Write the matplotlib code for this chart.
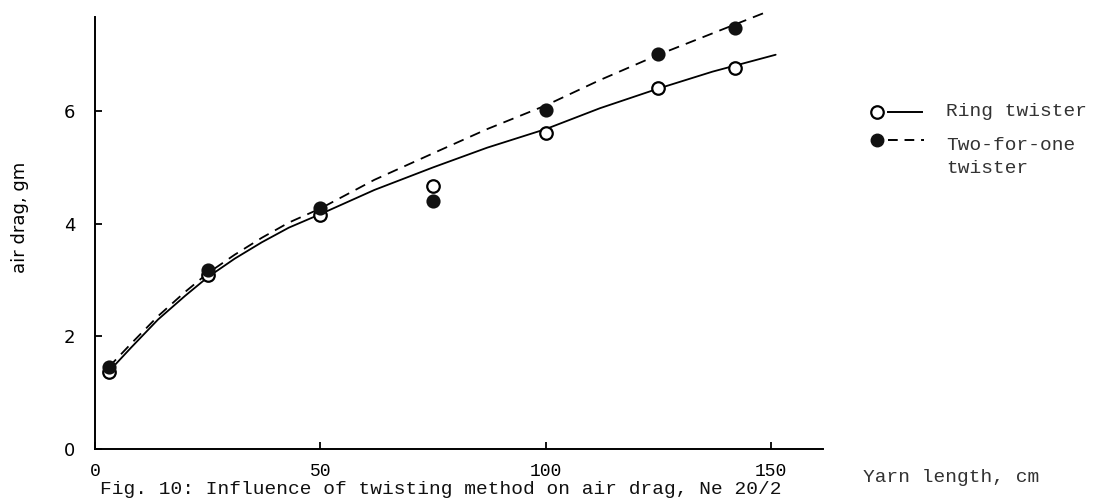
import matplotlib
matplotlib.use("Agg")
import matplotlib.pyplot as plt
from matplotlib.lines import Line2D

# Measured points: yarn length (cm) vs air drag
length_pts = [3, 25, 50, 75, 100, 125, 142]
ring_pts = [1.37, 3.09, 4.16, 4.67, 5.61, 6.41, 6.77]
tfo_pts = [1.45, 3.18, 4.28, 4.40, 6.02, 7.02, 7.48]

# Fitted trend curves
ring_fit_x = [3, 8, 14, 20, 25, 31, 37, 43, 50, 62, 75, 87, 100, 112, 125, 137, 151]
ring_fit_y = [1.37, 1.80, 2.30, 2.72, 3.05, 3.38, 3.67, 3.93, 4.17, 4.60, 5.00, 5.35,
              5.68, 6.05, 6.40, 6.70, 7.00]
tfo_fit_x = [3, 8, 14, 20, 25, 31, 37, 43, 50, 62, 75, 87, 100, 112, 125, 137, 149]
tfo_fit_y = [1.45, 1.87, 2.36, 2.79, 3.12, 3.45, 3.75, 4.02, 4.27, 4.78, 5.25, 5.68,
             6.10, 6.55, 7.00, 7.38, 7.76]

x_ticks = [0, 50, 100, 150]
y_ticks = [0, 2, 4, 6]

mono = "Liberation Mono"
W, H = 1096, 500
fig = plt.figure(figsize=(W / 100, H / 100), dpi=100)
ax = fig.add_axes([95 / W, 51 / H, 728 / W, 432 / H])
ax.set_xlim(0.5, 161.5)
ax.set_ylim(0, 7.67)

ax.plot(ring_fit_x, ring_fit_y, color="black", lw=1.3, solid_capstyle="round",
        clip_on=False)
ax.plot(tfo_fit_x, tfo_fit_y, color="black", lw=1.3, ls=(0, (6, 4)), clip_on=False)
ax.plot(length_pts, ring_pts, "o", ms=9, mfc="white", mec="black", mew=1.6,
        ls="none", zorder=3, clip_on=False)
ax.plot(length_pts, tfo_pts, "o", ms=9, mfc="#111111", mec="#111111", mew=1.2,
        ls="none", zorder=3, clip_on=False)

for side in ("top", "right"):
    ax.spines[side].set_visible(False)
for side in ("left", "bottom"):
    ax.spines[side].set_linewidth(1.4)

ax.set_xticks(x_ticks)
ax.set_yticks(y_ticks)
ax.set_xticklabels([str(v) for v in x_ticks], fontfamily=mono, fontsize=13)
ax.set_yticklabels([str(v) for v in y_ticks], fontfamily="DejaVu Sans", fontsize=13)
ax.tick_params(axis="x", direction="in", length=5, width=1.3, pad=10)
ax.tick_params(axis="y", direction="in", length=5, width=1.3, pad=14)

fig.text(20 / W, 1 - 217 / H, "air drag, gm", rotation=90, ha="center",
         va="center", fontsize=13, fontfamily="DejaVu Sans")
fig.text(100 / W, 1 - 490 / H, "Fig. 10: Influence of twisting method on air drag, Ne 20/2",
         ha="left", va="center", fontsize=14, fontfamily=mono, color="#111111")
fig.text(863 / W, 1 - 477 / H, "Yarn length, cm", ha="left", va="center",
         fontsize=14, fontfamily=mono, color="#333333")

# Hand-placed key to the right of the plot
def fx(px):
    return px / W

def fy(py):
    return 1 - py / H

fig.add_artist(Line2D([fx(877)], [fy(112)], marker="o", ms=9, mfc="white",
                      mec="black", mew=1.6, ls="none"))
fig.add_artist(Line2D([fx(888), fx(922)], [fy(112), fy(112)], color="black", lw=1.4))
fig.add_artist(Line2D([fx(877)], [fy(140)], marker="o", ms=9, mfc="#111111",
                      mec="#111111", ls="none"))
fig.add_artist(Line2D([fx(888), fx(924)], [fy(140), fy(140)], color="black",
                      lw=1.4, ls=(0, (5, 3.5))))
fig.text(fx(946), fy(112), "Ring twister", ha="left", va="center",
         fontsize=14, fontfamily=mono, color="#333333")
fig.text(fx(946), fy(146), "Two-for-one", ha="left", va="center",
         fontsize=14, fontfamily=mono, color="#333333")
fig.text(fx(946), fy(168), "twister", ha="left", va="center",
         fontsize=14, fontfamily=mono, color="#333333")

fig.savefig("out.png", dpi=100)
